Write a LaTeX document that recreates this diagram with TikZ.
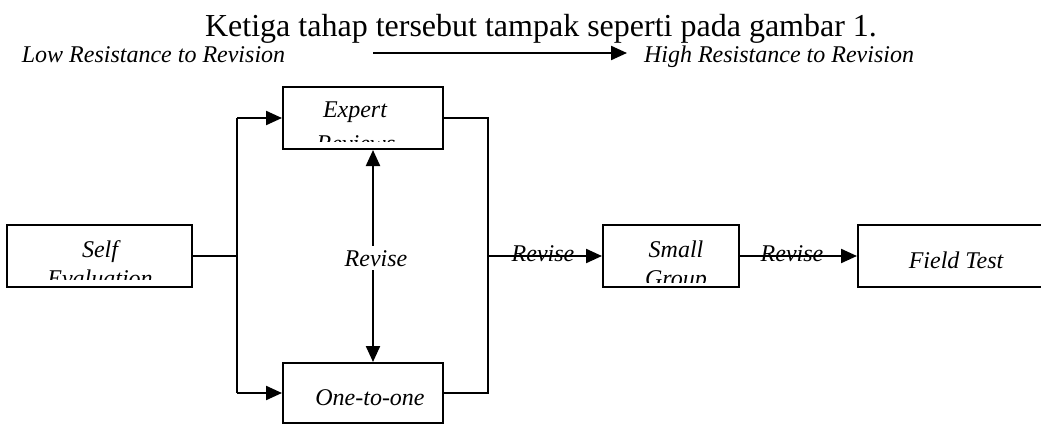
\documentclass[tikz,border=0pt]{standalone}
\usepackage{fontspec}
\setmainfont{Liberation Serif}
\usetikzlibrary{arrows.meta}
\begin{document}
\begin{tikzpicture}[x=1pt,y=-1pt,
  box/.style={draw, line width=2pt, inner sep=0pt},
  lbl/.style={font=\fontsize{24}{28}\selectfont\itshape, inner sep=0pt},
  ttl/.style={font=\fontsize{32}{38}\selectfont, inner sep=0pt},
  conn/.style={line width=2.2pt},
  arr/.style={conn, -{Triangle[length=16pt,width=14pt]}},
  dbl/.style={conn, {Triangle[length=16pt,width=14pt]}-{Triangle[length=16pt,width=14pt]}}]
\useasboundingbox (0,0) rectangle (1041,428);
\clip (0,0) rectangle (1041,428);
% header
\node[ttl, anchor=base] (title) at (541,37) {Ketiga tahap tersebut tampak seperti pada gambar 1.};
\node[lbl, anchor=base] (low) at (153.5,63) {Low Resistance to Revision};
\node[lbl, anchor=base] (high) at (779,63) {High Resistance to Revision};
\coordinate (ta) at (373,53);
\coordinate (tb) at (627,53);
\draw[arr] (ta) -- (tb);
% boxes
\node[box, minimum width=185pt, minimum height=62pt] (self) at (99.5,256) {};
\node[box, minimum width=160pt, minimum height=62pt] (expert) at (363,118) {};
\node[box, minimum width=160pt, minimum height=60pt] (one) at (363,393) {};
\node[box, minimum width=136pt, minimum height=62pt] (small) at (671,256) {};
\node[box, minimum width=210pt, minimum height=62pt] (field) at (963,256) {};
% box texts (clipped like the original)
\begin{scope}
\clip (8,226) rectangle (191,279);
\node[lbl, anchor=base] (selft) at (100,257) {Self};
\node[lbl, anchor=base] (selfb) at (100,286) {Evaluation};
\end{scope}
\begin{scope}
\clip (284,88) rectangle (442,141);
\node[lbl, anchor=base] (expt) at (355,117) {Expert};
\node[lbl, anchor=base] (expb) at (356,151) {Reviews};
\end{scope}
\begin{scope}
\clip (604,226) rectangle (738,282);
\node[lbl, anchor=base] (smt) at (676,257) {Small};
\node[lbl, anchor=base] (smb) at (676,286) {Group};
\end{scope}
\node[lbl, anchor=base] (onet) at (370,405) {One-to-one};
\node[lbl, anchor=base] (fieldt) at (956,268) {Field Test};
% connectors
\coordinate (jl) at (237,256);
\coordinate (jr) at (488,256);
\coordinate (dax) at (373,0);
\draw[conn] (self.east) -- (jl);
\draw[conn] (jl |- expert.west) -- (jl |- one.west);
\draw[arr] (jl |- expert.west) -- (expert.west);
\draw[arr] (jl |- one.west) -- (one.west);
\draw[conn] (expert.east) -| (jr) |- (one.east);
\draw[arr] (jr) -- (small.west);
\draw[arr] (small.east) -- (field.west);
\draw[dbl] (dax |- expert.south) -- (dax |- one.north);
% revise labels
\node[lbl, anchor=base, fill=white, inner ysep=4pt] (rmid) at (376,266) {Revise};
\node[lbl, anchor=base] (r1) at (543,261) {Revise};
\node[lbl, anchor=base] (r2) at (792,261) {Revise};
\end{tikzpicture}
\end{document}
